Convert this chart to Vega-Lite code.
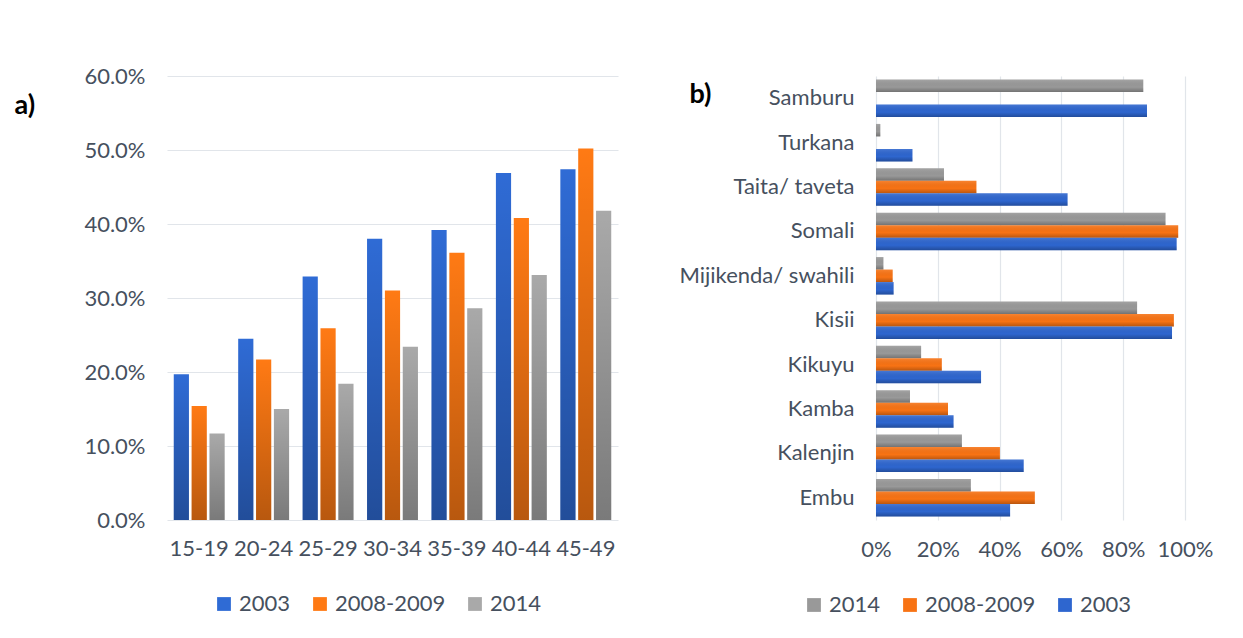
{
  "$schema": "https://vega.github.io/schema/vega-lite/v6.json",
  "background": "white",
  "padding": {"left": 14, "top": 65, "right": 5, "bottom": 5},
  "config": {
    "font": "Lato",
    "view": {"stroke": null},
    "axis": {"labelFont": "Lato", "labelFontSize": 22, "labelColor": "#46505E", "domain": false, "ticks": false, "gridColor": "#E1E5EA", "gridWidth": 1.2, "labelOverlap": false, "labelFlush": false},
    "legend": {"labelFont": "Lato", "labelFontSize": 22, "labelColor": "#46505E", "symbolType": "square", "symbolSize": 190, "symbolStrokeWidth": 0, "labelOffset": 4, "columnPadding": 18}
  },
  "bounds": "flush",
  "spacing": 258,
  "resolve": {"scale": {"color": "independent"}},
  "datasets": {
    "age": [
      {"age": "15-19", "series": "2003", "value": 0.197},
      {"age": "15-19", "series": "2008-2009", "value": 0.154},
      {"age": "15-19", "series": "2014", "value": 0.117},
      {"age": "20-24", "series": "2003", "value": 0.245},
      {"age": "20-24", "series": "2008-2009", "value": 0.217},
      {"age": "20-24", "series": "2014", "value": 0.150},
      {"age": "25-29", "series": "2003", "value": 0.329},
      {"age": "25-29", "series": "2008-2009", "value": 0.259},
      {"age": "25-29", "series": "2014", "value": 0.184},
      {"age": "30-34", "series": "2003", "value": 0.380},
      {"age": "30-34", "series": "2008-2009", "value": 0.310},
      {"age": "30-34", "series": "2014", "value": 0.234},
      {"age": "35-39", "series": "2003", "value": 0.392},
      {"age": "35-39", "series": "2008-2009", "value": 0.361},
      {"age": "35-39", "series": "2014", "value": 0.286},
      {"age": "40-44", "series": "2003", "value": 0.469},
      {"age": "40-44", "series": "2008-2009", "value": 0.408},
      {"age": "40-44", "series": "2014", "value": 0.331},
      {"age": "45-49", "series": "2003", "value": 0.474},
      {"age": "45-49", "series": "2008-2009", "value": 0.502},
      {"age": "45-49", "series": "2014", "value": 0.418}
    ],
    "eth": [
      {"group": "Samburu", "series": "2014", "value": 0.865},
      {"group": "Samburu", "series": "2003", "value": 0.877},
      {"group": "Turkana", "series": "2014", "value": 0.014},
      {"group": "Turkana", "series": "2003", "value": 0.118},
      {"group": "Taita/ taveta", "series": "2014", "value": 0.220},
      {"group": "Taita/ taveta", "series": "2008-2009", "value": 0.325},
      {"group": "Taita/ taveta", "series": "2003", "value": 0.620},
      {"group": "Somali", "series": "2014", "value": 0.937},
      {"group": "Somali", "series": "2008-2009", "value": 0.978},
      {"group": "Somali", "series": "2003", "value": 0.973},
      {"group": "Mijikenda/ swahili", "series": "2014", "value": 0.024},
      {"group": "Mijikenda/ swahili", "series": "2008-2009", "value": 0.054},
      {"group": "Mijikenda/ swahili", "series": "2003", "value": 0.057},
      {"group": "Kisii", "series": "2014", "value": 0.845},
      {"group": "Kisii", "series": "2008-2009", "value": 0.964},
      {"group": "Kisii", "series": "2003", "value": 0.958},
      {"group": "Kikuyu", "series": "2014", "value": 0.146},
      {"group": "Kikuyu", "series": "2008-2009", "value": 0.213},
      {"group": "Kikuyu", "series": "2003", "value": 0.340},
      {"group": "Kamba", "series": "2014", "value": 0.110},
      {"group": "Kamba", "series": "2008-2009", "value": 0.233},
      {"group": "Kamba", "series": "2003", "value": 0.251},
      {"group": "Kalenjin", "series": "2014", "value": 0.278},
      {"group": "Kalenjin", "series": "2008-2009", "value": 0.401},
      {"group": "Kalenjin", "series": "2003", "value": 0.478},
      {"group": "Embu", "series": "2014", "value": 0.307},
      {"group": "Embu", "series": "2008-2009", "value": 0.514},
      {"group": "Embu", "series": "2003", "value": 0.434}
    ]
  },
  "hconcat": [
    {
      "data": {"name": "age"},
      "width": 451,
      "height": 444,
      "encoding": {
        "x": {"field": "age", "type": "nominal", "scale": {"paddingInner": 0.21, "paddingOuter": 0.105},
          "axis": {"title": null, "labelAngle": 0, "labelPadding": 18, "grid": false}},
        "xOffset": {"field": "series", "scale": {"domain": ["2003", "2008-2009", "2014"], "paddingInner": 0.15, "paddingOuter": 0}},
        "y": {"field": "value", "type": "quantitative", "scale": {"domain": [0, 0.6]},
          "axis": {"format": ".1%", "values": [0, 0.1, 0.2, 0.3, 0.4, 0.5, 0.6], "labelPadding": 22,
            "title": "a)", "titleAngle": 0, "titleFontSize": 27, "titleFontWeight": "bold", "titleColor": "#000000", "titleFont": "Lato",
            "titleAlign": "left", "titleBaseline": "alphabetic", "titleX": -153, "titleY": 37}}
      },
      "layer": [
        {
          "mark": {"type": "bar"},
          "encoding": {
            "color": {"field": "series", "type": "nominal",
              "scale": {"domain": ["2003", "2008-2009", "2014"], "range": ["#2F6BD5", "#FF7A14", "#A9A9A9"]},
              "legend": {"orient": "none", "direction": "horizontal", "title": null, "legendX": 46, "legendY": 517}}
          }
        },
        {
          "mark": {"type": "bar",
            "fill": {"gradient": "linear", "x1": 0, "y1": 0, "x2": 0, "y2": 1,
              "stops": [{"offset": 0, "color": "rgba(0,0,0,0)"}, {"offset": 1, "color": "rgba(0,0,0,0.28)"}]}},
          "encoding": {}
        }
      ]
    },
    {
      "data": {"name": "eth"},
      "width": 309,
      "height": 444,
      "encoding": {
        "y": {"field": "group", "type": "nominal",
          "sort": ["Samburu", "Turkana", "Taita/ taveta", "Somali", "Mijikenda/ swahili", "Kisii", "Kikuyu", "Kamba", "Kalenjin", "Embu"],
          "scale": {"paddingInner": 0.155, "paddingOuter": 0.08},
          "axis": {"title": "b)", "titleAngle": 0, "titleFontSize": 27, "titleFontWeight": "bold", "titleColor": "#000000", "titleFont": "Lato",
            "titleAlign": "left", "titleBaseline": "alphabetic", "titleX": -187, "titleY": 26, "labelPadding": 22, "grid": false}},
        "yOffset": {"field": "series", "scale": {"domain": ["2014", "2008-2009", "2003"], "paddingInner": 0, "paddingOuter": 0}},
        "x": {"field": "value", "type": "quantitative", "scale": {"domain": [0, 1]},
          "axis": {"format": ".0%", "values": [0, 0.2, 0.4, 0.6, 0.8, 1], "labelPadding": 19, "title": null}}
      },
      "layer": [
        {
          "mark": {"type": "bar"},
          "encoding": {
            "color": {"field": "series", "type": "nominal",
              "scale": {"domain": ["2014", "2008-2009", "2003"], "range": ["#999999", "#F87314", "#2E66CF"]},
              "legend": {"orient": "none", "direction": "horizontal", "title": null, "legendX": -73, "legendY": 518}}
          }
        },
        {
          "mark": {"type": "bar",
            "fill": {"gradient": "linear", "x1": 0, "y1": 0, "x2": 0, "y2": 1,
              "stops": [{"offset": 0, "color": "rgba(255,255,255,0.12)"}, {"offset": 0.6, "color": "rgba(0,0,0,0)"}, {"offset": 1, "color": "rgba(0,0,0,0.25)"}]}},
          "encoding": {}
        }
      ]
    }
  ]
}
